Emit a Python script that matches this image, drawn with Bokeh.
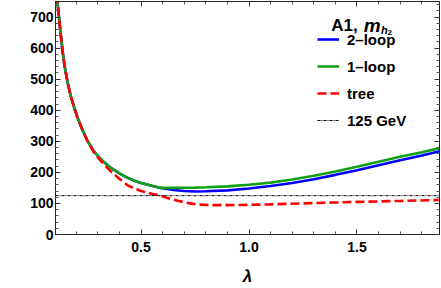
from math import pi
from bokeh.plotting import figure
from bokeh.models import (Range1d, LinearAxis, FixedTicker, Label, Legend,
                          LegendItem, PrintfTickFormatter, CustomJSTickFormatter)
from bokeh.embed import file_html
from bokeh.resources import INLINE

# ---------------- data ----------------
# common part of the 1-loop / 2-loop curves (they coincide for lambda < 0.6)
lam_low = [0.104, 0.112, 0.120, 0.1273, 0.136, 0.1458, 0.159, 0.1736, 0.19,
           0.2046, 0.225, 0.25, 0.2815, 0.32, 0.3588, 0.40, 0.4361, 0.47,
           0.50, 0.55, 0.59]
m_low = [815, 755, 700, 650, 595, 543, 493, 448, 410, 379, 343, 304, 268,
         238, 215, 197, 183, 173, 166, 157, 150]

lam_high = [0.60, 0.65, 0.70, 0.75, 0.80, 0.90, 1.0, 1.1, 1.2, 1.3, 1.4,
            1.5, 1.6, 1.7, 1.8, 1.883]
m_1loop_high = [150, 150, 150.5, 151, 152, 155, 160, 167, 177, 189, 203,
                218, 234, 250, 265, 278]
m_2loop_high = [149, 143, 140, 138.5, 139, 142, 148, 156, 166, 178, 192,
                207, 223, 239, 254, 268]

lam_tree = [0.104, 0.112, 0.120, 0.1273, 0.136, 0.1458, 0.159, 0.1736, 0.19,
            0.2046, 0.225, 0.25, 0.2815, 0.32, 0.3588, 0.40, 0.4361, 0.47,
            0.50, 0.55, 0.59, 0.63, 0.67, 0.72, 0.76, 0.83, 0.90, 1.0, 1.1,
            1.24, 1.4, 1.5, 1.7, 1.883]
m_tree = [815, 755, 700, 650, 595, 543, 493, 448, 410, 379, 343, 304, 264,
          232, 204, 179, 159, 148, 140, 131, 125, 116, 108.5, 101, 96.5,
          94.5, 94.5, 95.5, 97, 100, 103, 105, 108, 111]

h_mass = 125

series_labels = ["2\u2013loop", "1\u2013loop", "tree", "125 GeV"]
x_ticks = [0.5, 1.0, 1.5]
x_minor = [0.2, 0.3, 0.4, 0.6, 0.7, 0.8, 0.9, 1.1, 1.2, 1.3, 1.4, 1.6, 1.7, 1.8]
y_ticks = [0, 100, 200, 300, 400, 500, 600, 700]
y_minor = [v for v in range(20, 760, 20) if v % 100 != 0]

lam_2loop = lam_low + lam_high
m_2loop = m_low + m_2loop_high
lam_1loop = lam_low + lam_high
m_1loop = m_low + m_1loop_high

# ---------------- figure ----------------
x_start, x_end = 0.104, 1.882
y_start, y_end = 0, 750

p = figure(width=441, height=288, output_backend="svg", toolbar_location=None,
           x_range=Range1d(x_start, x_end), y_range=Range1d(y_start, y_end),
           min_border_left=55, min_border_right=2, min_border_top=1,
           min_border_bottom=51)
p.grid.visible = False
p.outline_line_color = "#222222"
p.outline_line_width = 1
p.background_fill_color = "white"
p.border_fill_color = "white"

FONT = "Liberation Sans"


def style_axis(ax, ticks, minor, fmt, labels=True):
    ax.ticker = FixedTicker(ticks=ticks, minor_ticks=minor)
    ax.axis_line_color = "#222222"
    ax.major_tick_in = 5
    ax.major_tick_out = 0
    ax.minor_tick_in = 3
    ax.minor_tick_out = 0
    ax.major_tick_line_color = "#333333"
    ax.minor_tick_line_color = "#555555"
    ax.major_label_text_font = FONT
    ax.major_label_text_font_style = "bold"
    ax.major_label_text_color = "black"
    ax.major_label_text_font_size = "14px"
    if labels:
        ax.formatter = PrintfTickFormatter(format=fmt)
    else:
        ax.formatter = CustomJSTickFormatter(code="return ''")
        ax.major_label_standoff = 0


xa = p.xaxis[0]
style_axis(xa, x_ticks, x_minor, "%.1f")
xa.major_label_standoff = 7
xa.axis_label = "\u03bb"
xa.axis_label_text_font = FONT
xa.axis_label_text_font_style = "bold italic"
xa.axis_label_text_font_size = "17px"
xa.axis_label_text_color = "black"
xa.axis_label_standoff = 12

ya = p.yaxis[0]
style_axis(ya, y_ticks, y_minor, "%d")
ya.major_label_standoff = 2

top = LinearAxis()
style_axis(top, x_ticks, x_minor, "%.1f", labels=False)
p.add_layout(top, "above")
right = LinearAxis()
style_axis(right, y_ticks, y_minor, "%d", labels=False)
p.add_layout(right, "right")

# ---------------- curves ----------------
r2 = p.line(lam_2loop, m_2loop, line_color="#0000ff", line_width=2.6)
r1 = p.line(lam_1loop, m_1loop, line_color="#14a014", line_width=2.6)
rt = p.line(lam_tree, m_tree, line_color="#ff0000", line_width=2.6,
            line_dash="9 4")
rh = p.line([x_start, x_end], [h_mass, h_mass], line_color="black",
            line_width=1, line_dash="3 1 1 1")

legend = Legend(items=[LegendItem(label=series_labels[0], renderers=[r2]),
                       LegendItem(label=series_labels[1], renderers=[r1]),
                       LegendItem(label=series_labels[2], renderers=[rt]),
                       LegendItem(label=series_labels[3], renderers=[rh])],
                location=(262, 104), padding=0, margin=0, spacing=7,
                glyph_width=22, glyph_height=20, label_height=20,
                label_standoff=8, border_line_alpha=0,
                background_fill_alpha=0,
                label_text_font=FONT, label_text_font_style="bold",
                label_text_font_size="15px", label_text_color="black")
p.add_layout(legend)

# legend title "A1, m_{h_2}"
p.add_layout(Label(x=1.3806, y=672, text="A1,", text_font=FONT,
                   text_font_style="bold", text_font_size="17px",
                   text_baseline="alphabetic", text_color="black"))
p.add_layout(Label(x=1.5316, y=672, text="m", text_font=FONT,
                   text_font_style="bold italic", text_font_size="19px",
                   text_baseline="alphabetic", text_color="black"))
p.add_layout(Label(x=1.6110, y=657, text="h", text_font=FONT,
                   text_font_style="bold italic", text_font_size="11px",
                   text_baseline="alphabetic", text_color="black"))
p.add_layout(Label(x=1.6410, y=649, text="2", text_font=FONT,
                   text_font_style="bold", text_font_size="8px",
                   text_baseline="alphabetic", text_color="black"))

# y axis label
p.add_layout(Label(x=-0.088, y=356, text="m/GeV", angle=pi / 2,
                   text_font=FONT, text_font_style="bold",
                   text_font_size="17px", text_align="center",
                   text_baseline="middle", text_color="black"))

open("out.html", "w").write(file_html(p, INLINE))
